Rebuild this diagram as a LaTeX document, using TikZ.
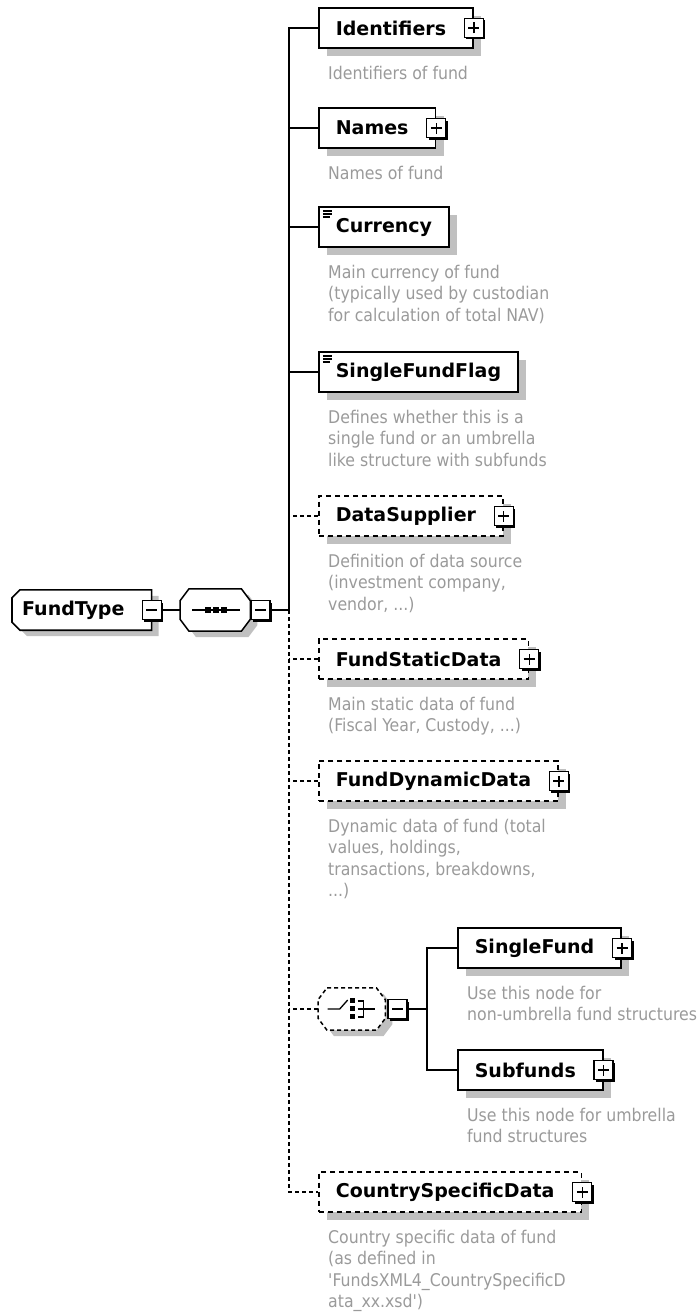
\documentclass[tikz,border=0pt]{standalone}
\usepackage{fontspec}
\setmainfont{DejaVu Sans}
\newfontfamily\descfont{DejaVu Sans Condensed}
\usepackage{tikz}
\usetikzlibrary{positioning,shadows,calc,backgrounds}
\definecolor{shade}{HTML}{C0C0C0}
\definecolor{desctext}{HTML}{9A9A9A}
\tikzset{
  elem/.style={
    draw, fill=white, line width=1.6pt, anchor=west,
    minimum height=40pt, inner xsep=17pt,
    font=\bfseries\fontsize{19}{22}\selectfont,
    drop shadow={shadow xshift=8pt, shadow yshift=-8pt, fill=shade, opacity=1},
  },
  optelem/.style={elem, dash pattern=on 5pt off 4pt},
  haskids/.style={execute at end node={\hspace*{10pt}}},
  simple/.style={path picture={
    \draw[line width=1.2pt] ([xshift=4pt,yshift=-4pt]path picture bounding box.north west) -- ++(9pt,0pt);
    \draw[line width=1.2pt] ([xshift=4pt,yshift=-7pt]path picture bounding box.north west) -- ++(9pt,0pt);
    \draw[line width=1.2pt] ([xshift=4pt,yshift=-10pt]path picture bounding box.north west) -- ++(7pt,0pt);
  }},
  ctype/.style={
    anchor=west, minimum height=40pt, inner xsep=10pt, inner ysep=0pt,
    font=\bfseries\fontsize{19}{22}\selectfont,
    execute at end node={\hspace*{17pt}},
  },
  compos/.style={anchor=west, minimum width=70pt, minimum height=42pt, inner sep=0pt},
  outline/.style={
    draw, fill=white, line width=1.6pt,
    drop shadow={shadow xshift=7pt, shadow yshift=-6pt, fill=shade, opacity=1},
  },
  btn/.style={
    draw, fill=white, line width=1.3pt, minimum size=19pt, inner sep=0pt,
    drop shadow={shadow xshift=2pt, shadow yshift=-2pt, fill=black, opacity=1},
  },
  plusbtn/.style={btn, path picture={
    \draw[line width=1.3pt] ([xshift=4pt]path picture bounding box.west) -- ([xshift=-4pt]path picture bounding box.east);
    \draw[line width=1.3pt] ([yshift=4pt]path picture bounding box.south) -- ([yshift=-4pt]path picture bounding box.north);
  }},
  minusbtn/.style={btn, path picture={
    \draw[line width=1.3pt] ([xshift=4pt]path picture bounding box.west) -- ([xshift=-4pt]path picture bounding box.east);
  }},
  desc/.style={
    anchor=north west, inner sep=0pt, align=left, text=desctext,
    font=\descfont\fontsize{17.5}{21.5}\selectfont,
  },
  conn/.style={line width=1.5pt},
  optconn/.style={line width=1.5pt, dash pattern=on 4pt off 3pt},
}

\begin{document}
\begin{tikzpicture}[x=1pt, y=-1pt]
  \useasboundingbox (0,0) rectangle (699,1314);

  % root type and its sequence
  \node[ctype] (ftype) at (12,610) {FundType};
  \begin{scope}[on background layer]
    \draw[outline] ([xshift=8pt]ftype.north west) -- (ftype.north east) -- (ftype.south east)
      -- ([xshift=8pt]ftype.south west) -- ([yshift=8pt]ftype.south west)
      -- ([yshift=-8pt]ftype.north west) -- cycle;
  \end{scope}
  \node[minusbtn] (ftypem) at (ftype.east) {};

  \node[compos] (seq) at (180,610) {};
  \draw[outline, line width=1.5pt] ([xshift=9pt]seq.north west) -- ([xshift=-9pt]seq.north east)
    -- ([yshift=-12pt]seq.north east) -- ([yshift=12pt]seq.south east)
    -- ([xshift=-9pt]seq.south east) -- ([xshift=9pt]seq.south west)
    -- ([yshift=12pt]seq.south west) -- ([yshift=-12pt]seq.north west) -- cycle;
  \draw[line width=1.3pt] ($(seq.center)+(-23,0)$) -- ($(seq.center)+(25,0)$);
  \fill ($(seq.center)+(-10,-3)$) rectangle ++(6,6);
  \fill ($(seq.center)+(-2,-3)$) rectangle ++(6,6);
  \fill ($(seq.center)+(6,-3)$) rectangle ++(6,6);
  \node[minusbtn, anchor=west] (seqm) at ([xshift=0pt]seq.east) {};
  \coordinate (jn) at (289,610);

  % children of the sequence
  \node[elem, haskids] (ident) at (318,28) {Identifiers};
  \node[plusbtn] (identx) at (ident.east) {};
  \node[desc] (identd) at ([xshift=10pt,yshift=-17pt]ident.south west) {Identifiers of fund};

  \node[elem, haskids] (names) at (318,128) {Names};
  \node[plusbtn] (namesx) at (names.east) {};
  \node[desc] (namesd) at ([xshift=10pt,yshift=-17pt]names.south west) {Names of fund};

  \node[elem, simple] (cur) at (318,227) {Currency};
  \node[desc] (curd) at ([xshift=10pt,yshift=-17pt]cur.south west)
    {Main currency of fund\\(typically used by custodian\\for calculation of total NAV)};

  \node[elem, simple] (sff) at (318,372) {SingleFundFlag};
  \node[desc] (sffd) at ([xshift=10pt,yshift=-17pt]sff.south west)
    {Defines whether this is a\\single fund or an umbrella\\like structure with subfunds};

  \node[optelem, haskids] (dsup) at (318,516) {DataSupplier};
  \node[plusbtn] (dsupx) at (dsup.east) {};
  \node[desc] (dsupd) at ([xshift=10pt,yshift=-17pt]dsup.south west)
    {Definition of data source\\(investment company,\\vendor, ...)};

  \node[optelem, haskids] (fsd) at (318,659) {FundStaticData};
  \node[plusbtn] (fsdx) at (fsd.east) {};
  \node[desc] (fsdd) at ([xshift=10pt,yshift=-17pt]fsd.south west)
    {Main static data of fund\\(Fiscal Year, Custody, ...)};

  \node[optelem, haskids] (fdd) at (318,781) {FundDynamicData};
  \node[plusbtn] (fddx) at (fdd.east) {};
  \node[desc] (fddd) at ([xshift=10pt,yshift=-17pt]fdd.south west)
    {Dynamic data of fund (total\\values, holdings,\\transactions, breakdowns,\\...)};

  % choice between single fund and subfunds
  \node[compos, minimum width=67pt] (choice) at (318,1009) {};
  \draw[outline, line width=1.5pt, dash pattern=on 4pt off 3pt]
    ([xshift=9pt]choice.north west) -- ([xshift=-9pt]choice.north east)
    -- ([yshift=-12pt]choice.north east) -- ([yshift=12pt]choice.south east)
    -- ([xshift=-9pt]choice.south east) -- ([xshift=9pt]choice.south west)
    -- ([yshift=12pt]choice.south west) -- ([yshift=-12pt]choice.north west) -- cycle;
  \draw[line width=1.3pt] ($(choice.center)+(-24,0)$) -- ($(choice.center)+(-12,0)$)
    -- ($(choice.center)+(-4,-9)$);
  \fill ($(choice.center)+(-2,-11)$) rectangle ++(5,5);
  \fill ($(choice.center)+(-2,-3)$) rectangle ++(5,5);
  \fill ($(choice.center)+(-2,5)$) rectangle ++(5,5);
  \draw[line width=1.3pt] ($(choice.center)+(6,-8)$) -- ++(6,0) -- ++(0,16) -- ++(-6,0);
  \draw[line width=1.3pt] ($(choice.center)+(6,0)$) -- ++(17,0);
  \node[minusbtn, anchor=west] (chm) at ([xshift=2pt]choice.east) {};
  \coordinate (cj) at (427,1009);

  \node[elem, haskids] (sfund) at (457,948) {SingleFund};
  \node[plusbtn] (sfundx) at (sfund.east) {};
  \node[desc] (sfundd) at ([xshift=10pt,yshift=-17pt]sfund.south west)
    {Use this node for\\non-umbrella fund structures};

  \node[elem, haskids] (subf) at (457,1070) {Subfunds};
  \node[plusbtn] (subfx) at (subf.east) {};
  \node[desc] (subfd) at ([xshift=10pt,yshift=-17pt]subf.south west)
    {Use this node for umbrella\\fund structures};

  \node[optelem, haskids] (csd) at (318,1192) {CountrySpecificData};
  \node[plusbtn] (csdx) at (csd.east) {};
  \node[desc] (csdd) at ([xshift=10pt,yshift=-17pt]csd.south west)
    {Country specific data of fund\\(as defined in\\'FundsXML4\_CountrySpecificD\\ata\_xx.xsd')};

  % connectors
  \draw[conn] (ftypem) -- (seq);
  \draw[conn] (seqm) -- (jn);
  \draw[conn] (jn) |- (ident.west);
  \draw[conn] (names.west) -- (names.west -| jn);
  \draw[conn] (cur.west) -- (cur.west -| jn);
  \draw[conn] (sff.west) -- (sff.west -| jn);
  \draw[optconn] (dsup.west) -- (dsup.west -| jn);
  \draw[optconn] (jn) |- (csd.west);
  \draw[optconn] (fsd.west) -- (fsd.west -| jn);
  \draw[optconn] (fdd.west) -- (fdd.west -| jn);
  \draw[optconn] (choice.west) -- (choice.west -| jn);
  \draw[conn] (chm) -- (cj);
  \draw[conn] (cj) |- (sfund.west);
  \draw[conn] (cj) |- (subf.west);
\end{tikzpicture}
\end{document}
